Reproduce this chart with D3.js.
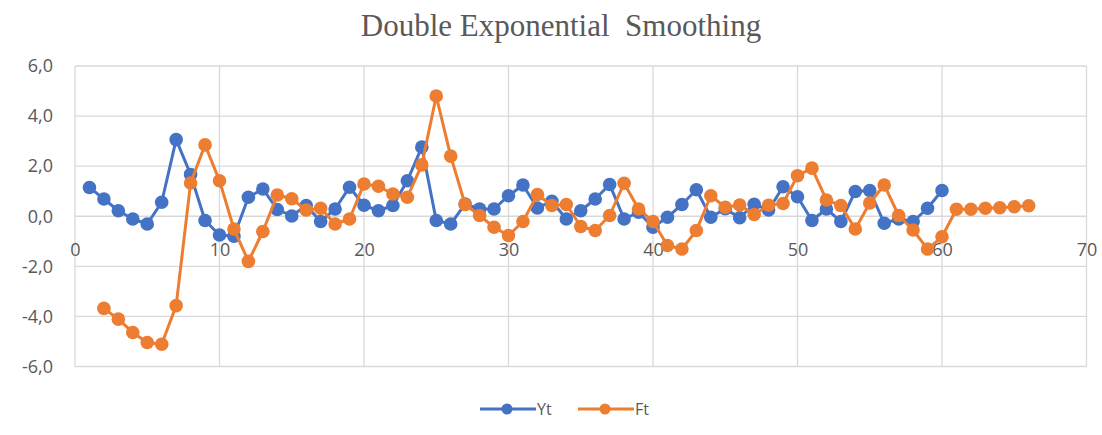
<!DOCTYPE html>
<html>
<head>
<meta charset="utf-8">
<script src="https://cdn.jsdelivr.net/npm/d3@7"></script>
<style>
  body { margin: 0; background: #fff; }
  svg { display: block; }
</style>
</head>
<body>
<svg id="viz"></svg>
<script>
// Yt starts at period 1, Ft at period 2
var ytStart = 1;
var ytValues = [1.15, 0.69, 0.22, -0.11, -0.31, 0.56, 3.06, 1.67, -0.17, -0.75,
  -0.80, 0.76, 1.09, 0.27, 0.01, 0.43, -0.21, 0.29, 1.16, 0.44,
  0.22, 0.43, 1.42, 2.76, -0.17, -0.31, 0.49, 0.29, 0.29, 0.82,
  1.25, 0.33, 0.60, -0.11, 0.22, 0.69, 1.27, -0.11, 0.16, -0.44,
  -0.04, 0.47, 1.06, -0.04, 0.30, -0.06, 0.48, 0.25, 1.18, 0.78,
  -0.17, 0.29, -0.21, 0.99, 1.03, -0.28, -0.11, -0.21, 0.32, 1.03];

var ftStart = 2;
var ftValues = [-3.68, -4.11, -4.64, -5.04, -5.11, -3.57, 1.33, 2.85, 1.42,
  -0.51, -1.80, -0.61, 0.85, 0.70, 0.25, 0.32, -0.31, -0.11, 1.29,
  1.20, 0.89, 0.76, 2.05, 4.80, 2.40, 0.47, 0.03, -0.44, -0.77,
  -0.21, 0.87, 0.43, 0.47, -0.41, -0.57, 0.03, 1.32, 0.29, -0.21,
  -1.17, -1.31, -0.57, 0.82, 0.36, 0.45, 0.07, 0.44, 0.51, 1.62,
  1.92, 0.65, 0.43, -0.51, 0.53, 1.25, 0.03, -0.55, -1.31, -0.82,
  0.28, 0.28, 0.32, 0.34, 0.38, 0.42];

var xTicks = [0, 10, 20, 30, 40, 50, 60, 70];
var yTicks = [-6, -4, -2, 0, 2, 4, 6];
var seriesNames = ["Yt", "Ft"];
var seriesColors = ["#4472C4", "#ED7D31"];

var width = 1102;
var height = 435;

var plotLeft = 75;
var plotRight = 1086.5;
var plotTop = 66;
var plotBottom = 366.5;

var svg = d3.select("#viz")
  .attr("width", width)
  .attr("height", height);

var x = d3.scaleLinear()
  .domain([0, 70])
  .range([plotLeft, plotRight]);

var y = d3.scaleLinear()
  .domain([-6, 6])
  .range([plotBottom, plotTop]);

var locale = d3.formatLocale({ decimal: ",", thousands: ".", grouping: [3], currency: ["", ""], minus: "-" });
var yFormat = locale.format(".1f");

// Title
svg.append("text")
  .attr("x", 561)
  .attr("y", 36)
  .attr("text-anchor", "middle")
  .style("font-family", "'Liberation Serif', 'Times New Roman', serif")
  .style("font-size", "31px")
  .style("fill", "#595959")
  .style("white-space", "pre")
  .text("Double Exponential  Smoothing");

// Gridlines
var grid = svg.append("g");

grid.selectAll(".hgrid")
  .data(yTicks).enter()
  .append("line")
  .attr("x1", plotLeft)
  .attr("x2", plotRight)
  .attr("y1", function(d) { return y(d); })
  .attr("y2", function(d) { return y(d); })
  .attr("stroke", "#D9D9D9")
  .attr("stroke-width", 1.3);

grid.selectAll(".vgrid")
  .data(xTicks).enter()
  .append("line")
  .attr("x1", function(d) { return x(d); })
  .attr("x2", function(d) { return x(d); })
  .attr("y1", plotTop)
  .attr("y2", plotBottom)
  .attr("stroke", "#D9D9D9")
  .attr("stroke-width", 1.3);

// Y axis labels
var yAxis = d3.axisLeft(y)
  .tickValues(yTicks)
  .tickFormat(yFormat)
  .tickSize(0)
  .tickPadding(22);

svg.append("g")
  .attr("transform", "translate(" + plotLeft + ",0)")
  .call(yAxis)
  .call(function(g) { g.select(".domain").remove(); })
  .selectAll("text")
  .style("font-family", "'Open Sans', sans-serif")
  .style("font-size", "18px")
  .style("fill", "#595959");

// X axis labels sit on the zero line
var xAxis = d3.axisBottom(x)
  .tickValues(xTicks)
  .tickSize(0)
  .tickPadding(27);

svg.append("g")
  .attr("transform", "translate(0," + y(0) + ")")
  .call(xAxis)
  .call(function(g) { g.select(".domain").remove(); })
  .selectAll("text")
  .style("font-family", "'Open Sans', sans-serif")
  .style("font-size", "18px")
  .style("fill", "#595959");

// Series
function toPoints(values, start) {
  return values.map(function(v, i) {
    return { t: start + i, v: v };
  });
}

var series = [
  toPoints(ytValues, ytStart),
  toPoints(ftValues, ftStart)
];

var line = d3.line()
  .x(function(d) { return x(d.t); })
  .y(function(d) { return y(d.v); });

series.forEach(function(points, i) {
  var g = svg.append("g");

  g.append("path")
    .datum(points)
    .attr("d", line)
    .attr("fill", "none")
    .attr("stroke", seriesColors[i])
    .attr("stroke-width", 3)
    .attr("stroke-linejoin", "round");

  g.selectAll("circle")
    .data(points).enter()
    .append("circle")
    .attr("cx", function(d) { return x(d.t); })
    .attr("cy", function(d) { return y(d.v); })
    .attr("r", 6.8)
    .attr("fill", seriesColors[i]);
});

// Legend
var legendX = [480, 578];
var legend = svg.append("g");

seriesNames.forEach(function(name, i) {
  var lx = legendX[i];
  var ly = 409;
  legend.append("line")
    .attr("x1", lx)
    .attr("x2", lx + 56)
    .attr("y1", ly)
    .attr("y2", ly)
    .attr("stroke", seriesColors[i])
    .attr("stroke-width", 3);
  legend.append("circle")
    .attr("cx", lx + 27)
    .attr("cy", ly)
    .attr("r", 5.5)
    .attr("fill", seriesColors[i]);
  legend.append("text")
    .attr("x", lx + 57)
    .attr("y", ly + 6)
    .style("font-family", "'Open Sans', sans-serif")
    .style("font-size", "16px")
    .style("fill", "#595959")
    .text(name);
});
</script>
</body>
</html>
